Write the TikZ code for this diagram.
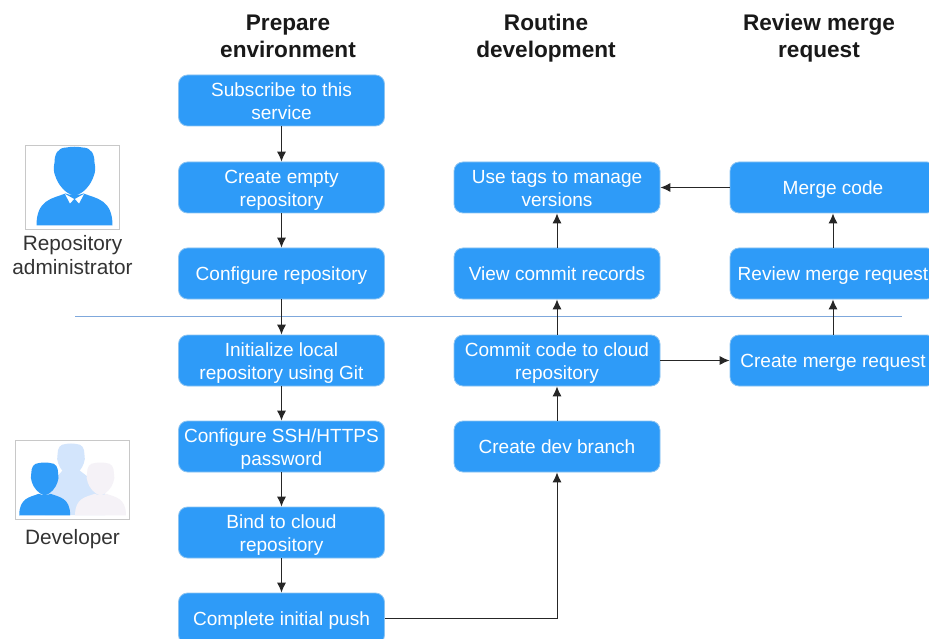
\documentclass[tikz,border=0pt]{standalone}
\usepackage{fontspec}
\setmainfont{Liberation Sans}
\usetikzlibrary{arrows.meta}
\definecolor{boxblue}{HTML}{2E9BF8}
\definecolor{boxedge}{HTML}{8CC4F2}
\definecolor{rulecol}{HTML}{7FA8DC}
\definecolor{txt}{HTML}{333333}
\definecolor{iconedge}{HTML}{C8C8C8}
\definecolor{paleblue}{HTML}{D3E5FC}
\definecolor{palepink}{HTML}{F5F2F7}
\tikzset{
  stepbox/.style={draw=boxedge,line width=0.8pt,fill=boxblue,rounded corners=9pt,minimum width=206pt,minimum height=51pt,inner sep=0pt,align=center,text=white,font=\fontsize{19.05}{23}\selectfont,
    execute at begin node={\rule{0pt}{18.7pt}},execute at end node={\rule[-5pt]{0pt}{1pt}}},
  twoline/.style={stepbox,execute at begin node={\rule{0pt}{42.8pt}}},
  flow/.style={draw=black!85,line width=1pt,-{Latex[length=10pt,width=9pt]}},
  coltitle/.style={align=center,font=\fontsize{22.6}{27}\selectfont\bfseries,text=black!90},
  rolelabel/.style={align=center,font=\fontsize{20.8}{24}\selectfont,text=txt},
  iconframe/.style={draw=iconedge,line width=0.8pt,fill=white},
  sepline/.style={draw=rulecol,line width=1.1pt}
}
\newcommand{\personshape}[4]{% x centre, y top, scale, colour
  \fill[#4,shift={(#1,#2)},scale=#3]
    (-8,0) .. controls (-3,-1) and (3,-1) .. (8,0)
    .. controls (17,0) and (20,7) .. (20,15)
    .. controls (21,20) and (21,25) .. (19,29)
    .. controls (17,36) and (9,47) .. (0,48)
    .. controls (3,48) and (6,47) .. (9,46)
    .. controls (22,51) and (38,52) .. (38,78)
    -- (-38,78)
    .. controls (-38,52) and (-22,51) .. (-9,46)
    .. controls (-6,47) and (-3,48) .. (0,48)
    .. controls (-9,47) and (-17,36) .. (-19,29)
    .. controls (-21,25) and (-21,20) .. (-20,15)
    .. controls (-20,7) and (-17,0) .. (-8,0) -- cycle;
}
\begin{document}
\begin{tikzpicture}[x=1pt,y=-1pt]
\useasboundingbox (0,0) rectangle (929,639);
\clip (0,0) rectangle (929,639);
\fill[white] (0,0) rectangle (929,639);
% titles
\node[coltitle] (t1) at (288,36.5) {Prepare\\environment};
\node[coltitle] (t2) at (546,38) {Routine\\development};
\node[coltitle] (t3) at (819,38) {Review merge\\request};
% separator
\coordinate (sepL) at (75,316.5);
\coordinate (sepR) at (902,316.5);
\draw[sepline] (sepL) -- (sepR);
% column 1
\node[twoline] (a1) at (281.5,100.5) {Subscribe to this\\service};
\node[twoline] (a2) at (281.5,187.5) {Create empty\\repository};
\node[stepbox] (a3) at (281.5,273.5) {Configure repository};
\node[twoline] (a4) at (281.5,360.5) {Initialize local\\repository using Git};
\node[twoline] (a5) at (281.5,446.5) {Configure SSH/HTTPS\\password};
\node[twoline] (a6) at (281.5,532.5) {Bind to cloud\\repository};
\node[stepbox] (a7) at (281.5,618.5) {Complete initial push};
% column 2
\node[twoline] (b1) at (557,187.5) {Use tags to manage\\versions};
\node[stepbox] (b2) at (557,273.5) {View commit records};
\node[twoline] (b3) at (557,360.5) {Commit code to cloud\\repository};
\node[stepbox] (b4) at (557,446.5) {Create dev branch};
% column 3
\node[stepbox] (c1) at (833,187.5) {Merge code};
\node[stepbox] (c2) at (833,273.5) {Review merge request};
\node[stepbox] (c3) at (833,360.5) {Create merge request};
% connectors
\draw[flow] (a1) -- (a2);
\draw[flow] (a2) -- (a3);
\draw[flow] (a3) -- (a4);
\draw[flow] (a4) -- (a5);
\draw[flow] (a5) -- (a6);
\draw[flow] (a6) -- (a7);
\draw[flow] (a7.east) -| (b4.south);
\draw[flow] (b4) -- (b3);
\draw[flow] (b3) -- (b2);
\draw[flow] (b2) -- (b1);
\draw[flow] (b3) -- (c3);
\draw[flow] (c3) -- (c2);
\draw[flow] (c2) -- (c1);
\draw[flow] (c1) -- (b1);
% administrator icon
\draw[iconframe] (25.5,145.5) rectangle (119.5,229.5);
\personshape{74.5}{147.5}{1}{boxblue}
\fill[white] (65,194) -- (74,199) -- (70,203.5) -- cycle;
\fill[white] (84,194) -- (75,199) -- (79,203.5) -- cycle;
% developer icon
\draw[iconframe] (15.5,440.5) rectangle (129.5,519.5);
\fill[paleblue] (63,470) -- (79,470) -- (105,490) -- (105,515) -- (45,515) -- (45,490) -- cycle;
\personshape{71}{444}{0.67}{paleblue}
\personshape{100.5}{463}{0.67}{palepink}
\personshape{44.7}{463}{0.67}{boxblue}
\node[rolelabel] (r1) at (72.5,255) {Repository\\administrator};
\node[rolelabel] (r2) at (72.5,539.5) {Developer};
\end{tikzpicture}
\end{document}
